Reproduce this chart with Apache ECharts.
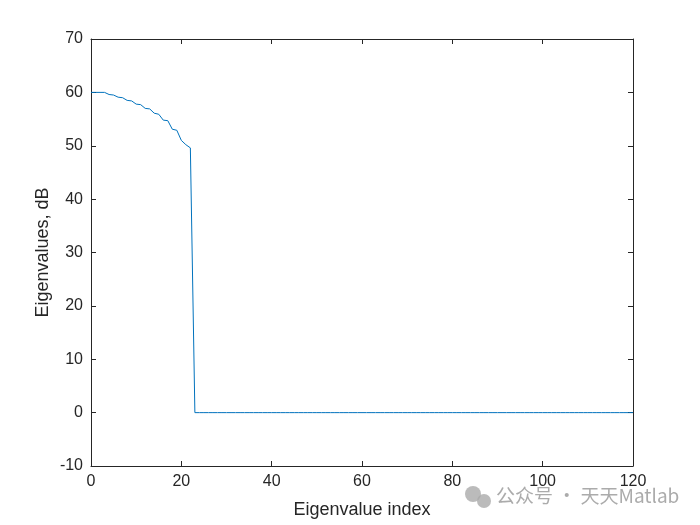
<!DOCTYPE html>
<html><head><meta charset="utf-8">
<script src="https://cdn.jsdelivr.net/npm/echarts@6/dist/echarts.min.js"></script>
<style>html,body{margin:0;padding:0;background:#fff}#c{width:700px;height:525px}</style>
</head><body><div id="c"></div>
<script>
const signalValues = [60.0,60.0,60.0,60.0,59.6,59.5,59.1,59.0,58.5,58.4,57.8,57.7,57.0,56.9,56.1,55.9,54.8,54.7,53.1,52.9,51.0,50.2,49.6];
const noiseValue = 0;
const lastIndex = 120;
const xTicks = [0,20,40,60,80,100,120];
const yTicks = [-10,0,10,20,30,40,50,60,70];

const data = [];
signalValues.forEach((v,i)=>data.push([i,v]));
for (let i = signalValues.length; i <= lastIndex; i++) data.push([i, noiseValue]);

const font = 'Liberation Sans, Arial, Helvetica, sans-serif';
const axCommon = {
  axisLine:{show:true,onZero:false,lineStyle:{color:'#262626',width:1}},
  axisTick:{show:true,inside:true,length:5,lineStyle:{color:'#262626'}},
  splitLine:{show:false}
};
const chart = echarts.init(document.getElementById('c'));
chart.setOption({
  animation:false,
  grid:{left:91,right:67,top:39,bottom:59,containLabel:false},
  xAxis:[
    Object.assign({type:'value',min:xTicks[0],max:xTicks[xTicks.length-1],interval:20,position:'bottom',
      name:'Eigenvalue index',nameLocation:'middle',nameGap:35,
      nameTextStyle:{fontFamily:font,fontSize:18,color:'#262626'},
      axisLabel:{fontFamily:font,fontSize:16,color:'#262626',margin:8}},axCommon),
    Object.assign({type:'value',min:xTicks[0],max:xTicks[xTicks.length-1],interval:20,position:'top',axisLabel:{show:false}},axCommon)
  ],
  yAxis:[
    Object.assign({type:'value',min:yTicks[0],max:yTicks[yTicks.length-1],interval:10,position:'left',
      name:'Eigenvalues, dB',nameLocation:'middle',nameGap:39,nameMoveOverlap:false,
      nameTextStyle:{fontFamily:font,fontSize:18,color:'#262626'},
      axisLabel:{fontFamily:font,fontSize:16,color:'#262626',margin:8}},axCommon),
    Object.assign({type:'value',min:yTicks[0],max:yTicks[yTicks.length-1],interval:10,position:'right',axisLabel:{show:false}},axCommon)
  ],
  series:[{type:'line',data:data,showSymbol:false,symbol:'none',
    lineStyle:{color:'#0072BD',width:1},xAxisIndex:0,yAxisIndex:0}],
  graphic:[{type:'text',left:496,top:486,style:{text:'公众号 · 天天Matlab',fill:'rgba(150,150,150,0.8)',fontSize:19,fontFamily:'Noto Sans CJK SC, sans-serif'}},
    {type:'circle',shape:{cx:473,cy:494,r:8},style:{fill:'rgba(170,170,170,0.8)'}},
    {type:'circle',shape:{cx:484,cy:501,r:7},style:{fill:'rgba(170,170,170,0.8)'}}]
});
</script></body></html>
